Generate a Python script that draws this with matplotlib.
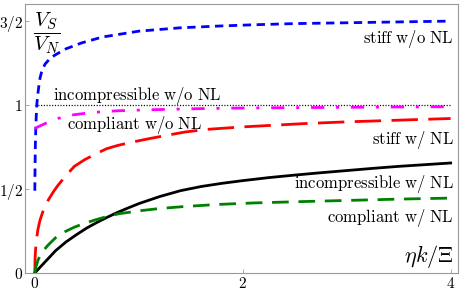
import matplotlib
matplotlib.use('Agg')
import matplotlib.pyplot as plt

plt.rcParams['mathtext.fontset'] = 'cm'
plt.rcParams['lines.scale_dashes'] = False

# values
x_stiff_nonl = [0, 0.002, 0.005, 0.01, 0.015, 0.02, 0.03, 0.04, 0.05, 0.07, 0.1, 0.15, 0.2, 0.3, 0.45,
                0.65, 0.85, 1.0, 1.2, 1.4, 1.75, 2.1, 2.5, 3.0, 3.5, 4.0]
y_stiff_nonl = [0.49, 0.62, 0.76, 0.88, 0.95, 1.01, 1.07, 1.12, 1.16, 1.21, 1.245, 1.28, 1.30, 1.335, 1.37,
                1.405, 1.425, 1.44, 1.45, 1.46, 1.47, 1.478, 1.485, 1.49, 1.495, 1.50]

x_compl_nonl = [0, 0.03, 0.1, 0.22, 0.35, 0.5, 0.64, 0.8, 1.0, 1.3, 1.7, 2.1, 2.6, 3.3, 4.0]
y_compl_nonl = [0.86, 0.87, 0.89, 0.92, 0.94, 0.952, 0.96, 0.966, 0.97, 0.975, 0.98, 0.983, 0.985, 0.988, 0.99]

x_incomp_nonl = [0, 4.0]
y_incomp_nonl = [1.0, 1.0]

x_stiff_nl = [0, 0.002, 0.006, 0.016, 0.03, 0.05, 0.08, 0.13, 0.18, 0.22, 0.3, 0.38, 0.48, 0.59, 0.69,
              0.8, 0.94, 1.1, 1.27, 1.45, 1.65, 2.0, 2.3, 2.6, 3.0, 3.5, 4.0]
y_stiff_nl = [0, 0.08, 0.13, 0.2, 0.26, 0.315, 0.37, 0.435, 0.485, 0.52, 0.58, 0.635, 0.675, 0.71, 0.74,
              0.76, 0.78, 0.80, 0.82, 0.84, 0.855, 0.87, 0.88, 0.89, 0.90, 0.91, 0.92]

x_incomp_nl = [0, 0.05, 0.1, 0.15, 0.2, 0.3, 0.4, 0.5, 0.6, 0.7, 0.8, 0.9, 1.0, 1.2, 1.4, 1.6, 1.8,
               2.0, 2.25, 2.5, 2.75, 3.0, 3.25, 3.5, 3.75, 4.0]
y_incomp_nl = [0, 0.034, 0.067, 0.1, 0.133, 0.185, 0.228, 0.268, 0.302, 0.333, 0.362, 0.388, 0.413, 0.455,
               0.49, 0.515, 0.534, 0.55, 0.568, 0.583, 0.597, 0.61, 0.623, 0.635, 0.645, 0.655]

x_compl_nl = [0, 0.01, 0.032, 0.07, 0.13, 0.2, 0.29, 0.38, 0.48, 0.58, 0.67, 0.8, 1.0, 1.2, 1.42, 1.75,
              2.1, 2.55, 3.0, 3.5, 4.0]
y_compl_nl = [0, 0.035, 0.079, 0.125, 0.168, 0.21, 0.246, 0.273, 0.296, 0.316, 0.332, 0.352, 0.37, 0.384,
              0.395, 0.408, 0.417, 0.425, 0.432, 0.44, 0.446]

yticks = [0, 0.5, 1, 1.5]
ytick_labels = ['$0$', '$1/2$', '$1$', '$3/2$']
xticks = [0, 2, 4]
xtick_labels = ['$0$', '$2$', '$4$']

fig = plt.figure(figsize=(4.63, 2.94), dpi=100)
ax = fig.add_axes([0.055, 0.0714, 0.934, 0.914])

lw = 2.0
ax.plot(x_incomp_nonl, y_incomp_nonl, color='black', lw=0.9, dashes=(0.8, 1.2))
ax.plot(x_stiff_nonl, y_stiff_nonl, color='#0000ff', lw=lw, dashes=(6, 4))
ax.plot(x_compl_nonl, y_compl_nonl, color='#ff00ff', lw=lw, dashes=(9.5, 8.5, 2.2, 8.5))
ax.plot(x_stiff_nl, y_stiff_nl, color='#ff0000', lw=lw, dashes=(19, 7.5))
ax.plot(x_incomp_nl, y_incomp_nl, color='black', lw=lw)
ax.plot(x_compl_nl, y_compl_nl, color='#008000', lw=lw, dashes=(12, 7))

ax.set_xlim(-0.09, 4.07)
ax.set_ylim(0, 1.6)
ax.set_xticks(xticks)
ax.set_xticklabels(xtick_labels)
ax.set_yticks(yticks)
ax.set_yticklabels(ytick_labels)

for s in ax.spines.values():
    s.set_color('#999999')
    s.set_linewidth(0.8)
ax.tick_params(direction='in', length=3, width=0.6, color='#999999', labelsize=11)
ax.tick_params(axis='x', pad=2)
ax.tick_params(axis='y', pad=2)

fs = 12
ax.text(4.03, 1.393, r'$\mathrm{stiff\ w/o\ NL}$', ha='right', va='center', fontsize=fs)
ax.text(0.175, 1.03, r'$\mathrm{incompressible\ w/o\ NL}$', ha='left', va='baseline', fontsize=fs)
ax.text(0.31, 0.857, r'$\mathrm{compliant\ w/o\ NL}$', ha='left', va='baseline', fontsize=fs)
ax.text(4.03, 0.79, r'$\mathrm{stiff\ w/\ NL}$', ha='right', va='center', fontsize=fs)
ax.text(4.03, 0.53, r'$\mathrm{incompressible\ w/\ NL}$', ha='right', va='center', fontsize=fs)
ax.text(4.03, 0.325, r'$\mathrm{compliant\ w/\ NL}$', ha='right', va='center', fontsize=fs)
ax.text(4.03, 0.10, r'$\eta k/\Xi$', ha='right', va='center', fontsize=16)
ax.text(0.115, 1.43, r'$\dfrac{V_S}{V_N}$', ha='center', va='center', fontsize=15)

fig.savefig('out.png', dpi=100)
